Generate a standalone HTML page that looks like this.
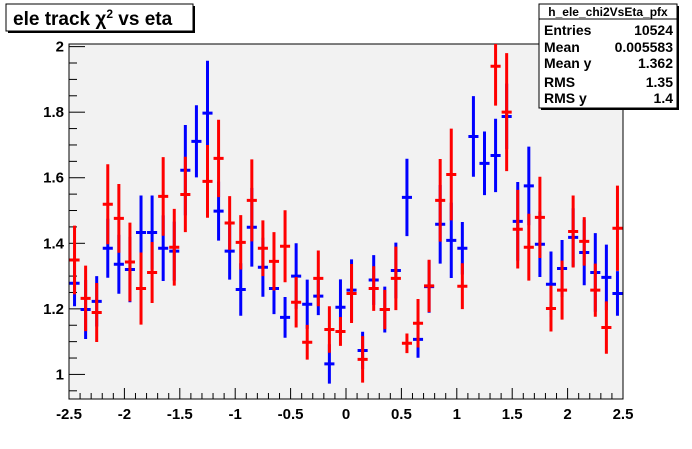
<!DOCTYPE html>
<html><head><meta charset="utf-8"><style>
body{margin:0;background:#fff;}
svg text{font-family:"Liberation Sans",sans-serif;font-weight:bold;}
</style></head><body>
<svg width="692" height="444" viewBox="0 0 692 444">
<defs><clipPath id="pc"><rect x="69" y="44" width="554" height="355"/></clipPath></defs>
<rect x="0" y="0" width="692" height="444" fill="#fff"/>
<rect x="69" y="44" width="554" height="355" fill="#f2f2f2" stroke="#000" stroke-width="1"/>
<g id="axes"></g>
<g id="marks" clip-path="url(#pc)"></g>
<g>
<rect x="8" y="6" width="187" height="27" fill="#000"/>
<rect x="6" y="4" width="187" height="27" fill="#fff" stroke="#000"/>
<text x="13" y="25" font-size="19">ele track χ<tspan dy="-7" font-size="12">2</tspan><tspan dy="7"> vs eta</tspan></text>
</g>
<g>
<rect x="541" y="6" width="138" height="104" fill="#000"/>
<rect x="539" y="4" width="138" height="104" fill="#fff" stroke="#000"/>
<line x1="539" y1="19" x2="677" y2="19" stroke="#000"/>
<text x="608" y="16" font-size="12" text-anchor="middle">h_ele_chi2VsEta_pfx</text>
<text x="544" y="35" font-size="14">Entries</text><text x="673" y="35" font-size="14" text-anchor="end">10524</text>
<text x="544" y="52" font-size="14">Mean</text><text x="673" y="52" font-size="14" text-anchor="end">0.005583</text>
<text x="544" y="68" font-size="14">Mean y</text><text x="673" y="68" font-size="14" text-anchor="end">1.362</text>
<text x="544" y="87" font-size="14">RMS</text><text x="673" y="87" font-size="14" text-anchor="end">1.35</text>
<text x="544" y="103" font-size="14">RMS y</text><text x="673" y="103" font-size="14" text-anchor="end">1.4</text>
</g>
</svg>
<script>
const xTicks=[-2.5,-2,-1.5,-1,-0.5,0,0.5,1,1.5,2,2.5];
const xTickLabels=["-2.5","-2","-1.5","-1","-0.5","0","0.5","1","1.5","2","2.5"];
const yTicks=[1,1.2,1.4,1.6,1.8,2];
const yTickLabels=["1","1.2","1.4","1.6","1.8","2"];
const binCenters=[];for(let i=0;i<50;i++)binCenters.push(-2.45+0.1*i);
const blueVals=[1.278,1.198,1.223,1.385,1.336,1.32,1.433,1.433,1.385,1.376,1.623,1.711,1.797,1.498,1.376,1.259,1.449,1.327,1.262,1.174,1.3,1.214,1.239,1.032,1.205,1.257,1.073,1.288,1.198,1.317,1.54,1.107,1.268,1.458,1.409,1.385,1.726,1.644,1.668,1.787,1.467,1.575,1.397,1.275,1.323,1.418,1.372,1.311,1.296,1.247];
const blueErrs=[0.07,0.09,0.077,0.09,0.09,0.1,0.113,0.113,0.1,0.09,0.138,0.11,0.16,0.09,0.087,0.08,0.12,0.09,0.078,0.062,0.1,0.075,0.058,0.06,0.085,0.094,0.057,0.076,0.07,0.085,0.118,0.056,0.08,0.12,0.115,0.08,0.123,0.097,0.112,0.1,0.12,0.12,0.1,0.1,0.087,0.089,0.1,0.12,0.1,0.068];
const redVals=[1.349,1.232,1.189,1.519,1.476,1.343,1.262,1.311,1.543,1.388,1.549,null,1.589,1.659,1.462,1.403,1.531,1.385,1.345,1.391,1.22,1.098,1.293,1.137,1.131,1.247,1.046,1.262,1.198,1.293,1.095,1.156,1.27,1.531,1.61,1.269,null,null,1.94,1.8,1.443,1.388,1.479,1.201,1.257,1.436,1.406,1.257,1.143,1.446];
const redErrs=[0.105,0.1,0.09,0.122,0.105,0.12,0.11,0.093,0.12,0.117,0.115,0,0.111,0.118,0.082,0.083,0.125,0.085,0.089,0.11,0.077,0.053,0.085,0.071,0.044,0.09,0.071,0.068,0.06,0.097,0.03,0.074,0.08,0.126,0.14,0.07,0,0,0.12,0.18,0.12,0.102,0.124,0.07,0.09,0.11,0.074,0.081,0.08,0.13];
const X0=69,X1=623,Y0=399,Y1=44,xmin=-2.5,xmax=2.5,ymin=0.925,ymax=2.008;
const sx=v=>X0+(v-xmin)/(xmax-xmin)*(X1-X0);
const sy=v=>Y0-(v-ymin)/(ymax-ymin)*(Y0-Y1);
const NS="http://www.w3.org/2000/svg";
function mk(t,a,p){const e=document.createElementNS(NS,t);for(const k in a)e.setAttribute(k,a[k]);p.appendChild(e);return e;}
const ax=document.getElementById('axes');
for(let v=-2.5;v<=2.5001;v+=0.1){const big=Math.abs(v*2-Math.round(v*2))<1e-6;const t=mk('line',{x1:sx(v),x2:sx(v),y1:Y0,y2:Y0-(big?11:6),stroke:'#000'},ax);

}
for(let v=0.95;v<=2.001;v+=0.05){const big=Math.abs(v*5-Math.round(v*5))<1e-6;const t=mk('line',{x1:X0,x2:X0+(big?16:8),y1:sy(v),y2:sy(v),stroke:'#000'},ax);

}
xTicks.forEach((v,i)=>{const t=mk('text',{x:sx(v),y:419,'font-size':15,'text-anchor':'middle'},ax);t.textContent=xTickLabels[i];

});
yTicks.forEach((v,i)=>{const t=mk('text',{x:64,y:sy(v)+5,'font-size':15,'text-anchor':'end'},ax);t.textContent=yTickLabels[i];

});
const mg=document.getElementById('marks');
function series(vals,errs,col,name){const g=mk('g',{},mg);


vals.forEach((v,i)=>{if(v==null)return;const x=sx(binCenters[i]);const hw=(sx(0.1)-sx(0))/2;
const p=mk('path',{d:`M${x},${sy(v+errs[i])}V${sy(v-errs[i])}M${x-hw+0.5},${sy(v)}H${x+hw-0.5}`,stroke:col,'stroke-width':3,fill:'none'},g);

});}
series(blueVals,blueErrs,'#0000ff','blue-series');
series(redVals,redErrs,'#ff0000','red-series');
</script>
</body></html>
